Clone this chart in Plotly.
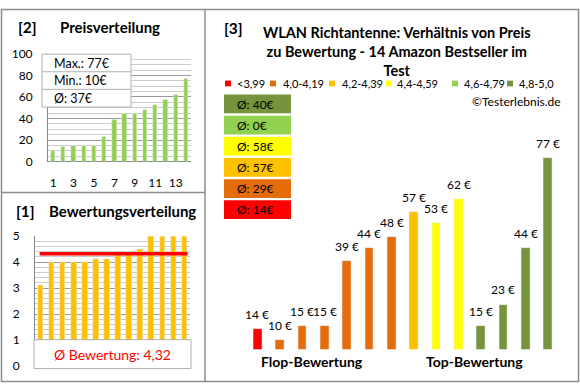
import plotly.graph_objects as go

W, H = 580, 390
def px(x): return x / W
def py(y): return 1 - y / H

# ---------------- data ----------------
# [2] Preisverteilung
price_rank = list(range(1, 15))
prices_sorted = [10, 14, 15, 15, 15, 23, 39, 44, 44, 48, 53, 57, 62, 77]
price_xticks = [1, 3, 5, 7, 9, 11, 13]
price_yticks = [0, 20, 40, 60, 80, 100]
stats_labels = ["Max.: 77€", "Min.: 10€", "Ø: 37€"]

# [1] Bewertungsverteilung
rating_rank = list(range(1, 15))
ratings_sorted = [3.1, 4.0, 4.0, 4.0, 4.0, 4.1, 4.1, 4.3, 4.4, 4.5, 5.0, 5.0, 5.0, 5.0]
rating_avg = 4.32
rating_yticks = [0, 1, 2, 3, 4, 5]
rating_avg_label = "Ø Bewertung: 4,32"

# [3] Preis vs. Bewertung
groups = ["<3,99", "4,0-4,19", "4,2-4,39", "4,4-4,59", "4,6-4,79", "4,8-5,0"]
group_colors = ["#FF0000", "#E46C0A", "#FFC000", "#FFFF00", "#92D050", "#77933C"]
group_avgs = [14, 29, 57, 58, 0, 40]
bar_pos = list(range(1, 15))
bar_prices = [14, 10, 15, 15, 39, 44, 48, 57, 53, 62, 15, 23, 44, 77]
bar_groups = [0, 1, 1, 1, 1, 1, 1, 2, 3, 3, 5, 5, 5, 5]
title3 = "WLAN Richtantenne: Verhältnis von Preis<br>zu Bewertung - 14 Amazon Bestseller im<br>Test"

FONT = "Lato"
BORDER = "#8c8c8c"

fig = go.Figure()

# panel 2 bars
fig.add_trace(go.Bar(x=price_rank, y=prices_sorted, marker_color="#92D050",
                     width=0.42, xaxis="x", yaxis="y", hoverinfo="skip"))
# panel 1 bars
fig.add_trace(go.Bar(x=rating_rank, y=ratings_sorted, marker_color="#FFC000",
                     width=0.5, xaxis="x2", yaxis="y2", hoverinfo="skip"))
# panel 3 bars
fig.add_trace(go.Bar(x=bar_pos, y=bar_prices,
                     marker_color=[group_colors[g] for g in bar_groups],
                     width=0.39, xaxis="x3", yaxis="y3", hoverinfo="skip"))

tickfont = dict(family=FONT, size=12, color="#000")
layout = dict(
    width=W, height=H, margin=dict(l=0, r=0, t=0, b=0),
    paper_bgcolor="white", plot_bgcolor="rgba(0,0,0,0)",
    showlegend=False, bargap=0,
    font=dict(family=FONT, size=12, color="#000"),
    xaxis=dict(domain=[px(48), px(191)], range=[0.5, 14.5], tickvals=price_xticks,
               tickfont=tickfont, showgrid=False, zeroline=False, showline=False,
               ticks="", ticklabelstandoff=12, anchor="y", fixedrange=True),
    yaxis=dict(domain=[py(159.7), py(47.7)], range=[0, 100], tickvals=price_yticks,
               tickfont=tickfont, showgrid=True, gridcolor="#9a9a9a", gridwidth=1,
               minor=dict(dtick=5, showgrid=True, gridcolor="#cccccc", gridwidth=1),
               zeroline=True, zerolinecolor="#868686", zerolinewidth=1,
               showline=True, linecolor="#868686", linewidth=1, ticks="",
               ticklabelstandoff=12, anchor="x", fixedrange=True),
    xaxis2=dict(domain=[px(35), px(190)], range=[0.5, 14.5], showticklabels=False,
                showgrid=False, zeroline=False, showline=False, ticks="",
                anchor="y2", fixedrange=True),
    yaxis2=dict(domain=[py(372.3), py(237.3)], range=[0, 5], tickvals=rating_yticks,
                tickfont=tickfont, showgrid=True, gridcolor="#9a9a9a", gridwidth=1,
                minor=dict(dtick=0.2, showgrid=True, gridcolor="#cccccc", gridwidth=1),
                zeroline=True, zerolinecolor="#868686", zerolinewidth=1,
                showline=True, linecolor="#868686", linewidth=1, ticks="",
                ticklabelstandoff=12, anchor="x2", fixedrange=True),
    xaxis3=dict(domain=[px(246.3), px(559.2)], range=[0.5, 14.5], visible=False,
                anchor="y3", fixedrange=True),
    yaxis3=dict(domain=[py(355), py(147.6)], range=[6.45, 80], visible=False,
                anchor="x3", fixedrange=True),
)
fig.update_layout(**layout)

shapes = []
ann = []

# frame lines
shapes.append(dict(type="rect", xref="paper", yref="paper", x0=px(1.5), x1=px(578.5),
                   y0=py(388.5), y1=py(1.5), line=dict(color=BORDER, width=1.5),
                   fillcolor="rgba(0,0,0,0)", layer="above"))
shapes.append(dict(type="line", xref="paper", yref="paper", x0=px(205), x1=px(205),
                   y0=py(388.5), y1=py(1.5), line=dict(color=BORDER, width=1.5), layer="above"))
shapes.append(dict(type="line", xref="paper", yref="paper", x0=px(1.5), x1=px(205),
                   y0=py(192), y1=py(192), line=dict(color=BORDER, width=1.5), layer="above"))

def text(x, y, s, size=12, bold=False, color="#000", xanchor="left", yanchor="middle"):
    ann.append(dict(xref="paper", yref="paper", x=px(x), y=py(y), text=("<b>%s</b>" % s) if bold else s,
                    showarrow=False, xanchor=xanchor, yanchor=yanchor,
                    font=dict(family=FONT, size=size, color=color)))

# panel titles
text(16, 20, "[2]", size=15.5, bold=True)
text(58, 20, "Preisverteilung", size=15, bold=True)
text(14, 211, "[1]", size=15.5, bold=True)
text(47, 211, "Bewertungsverteilung", size=15, bold=True)
text(222, 21, "[3]", size=15.5, bold=True)
ann.append(dict(xref="paper", yref="paper", x=px(397), y=py(14.5), text="<b>" + title3 + "</b>",
                showarrow=False, xanchor="center", yanchor="top", align="center",
                font=dict(family=FONT, size=14.5, color="#000")))

# stats box (panel 2)
shapes.append(dict(type="rect", xref="paper", yref="paper", x0=px(42), x1=px(131),
                   y0=py(103), y1=py(48), fillcolor="white", line=dict(color="#b0b0b0", width=1),
                   layer="above"))
for i, s in enumerate(stats_labels):
    if i > 0:
        yy = 48 + i * 18.3
        shapes.append(dict(type="line", xref="paper", yref="paper", x0=px(42), x1=px(131),
                           y0=py(yy), y1=py(yy), line=dict(color="#b0b0b0", width=1), layer="above"))
    text(52, 57.5 + i * 18.3, s, size=12.5)

# average line (panel 1)
shapes.append(dict(type="line", xref="x2 domain", yref="y2", x0=0.03, x1=0.985,
                   y0=rating_avg, y1=rating_avg, line=dict(color="#FF0000", width=3.5), layer="above"))
# avg box (panel 1)
shapes.append(dict(type="rect", xref="paper", yref="paper", x0=px(34), x1=px(191),
                   y0=py(375), y1=py(345), fillcolor="white", line=dict(color="#b0b0b0", width=1),
                   layer="above"))
text(112, 360, rating_avg_label, size=14, color="#FF0000", xanchor="center")

# legend row (panel 3)
sq_x = [225, 270, 329, 386, 452, 507]
tx_x = [235, 281, 340, 395, 462, 517]
for i, g in enumerate(groups):
    shapes.append(dict(type="rect", xref="paper", yref="paper", x0=px(sq_x[i]), x1=px(sq_x[i] + 6),
                       y0=py(81.5), y1=py(75.5), fillcolor=group_colors[i], line=dict(width=0)))
    text(tx_x[i], 78.5, g, size=11)

text(563, 97, "©Testerlebnis.de", size=12, xanchor="right")

# group average boxes
box_order = [5, 4, 3, 2, 1, 0]
for k, gi in enumerate(box_order):
    top = 90 + 22 * k
    shapes.append(dict(type="rect", xref="paper", yref="paper", x0=px(224), x1=px(291),
                       y0=py(top + 19.5), y1=py(top), fillcolor=group_colors[gi], line=dict(width=0)))
    text(235, top + 10, "Ø: %d€" % group_avgs[gi], size=12)

# price labels above bars
for xv, v in zip(bar_pos, bar_prices):
    ann.append(dict(xref="x3", yref="y3", x=xv, y=v, text="%d €" % v, showarrow=False,
                    xanchor="center", yanchor="bottom", yshift=5,
                    font=dict(family=FONT, size=12, color="#000")))

text(312, 368, "Flop-Bewertung", size=14, bold=True, xanchor="center")
text(474, 368, "Top-Bewertung", size=14, bold=True, xanchor="center")

fig.update_layout(shapes=shapes, annotations=ann)
fig.write_html("out.html", config={"displayModeBar": False},
               post_script="document.body.style.margin='0';document.body.style.padding='0';"
                           "document.body.style.overflow='hidden';")
